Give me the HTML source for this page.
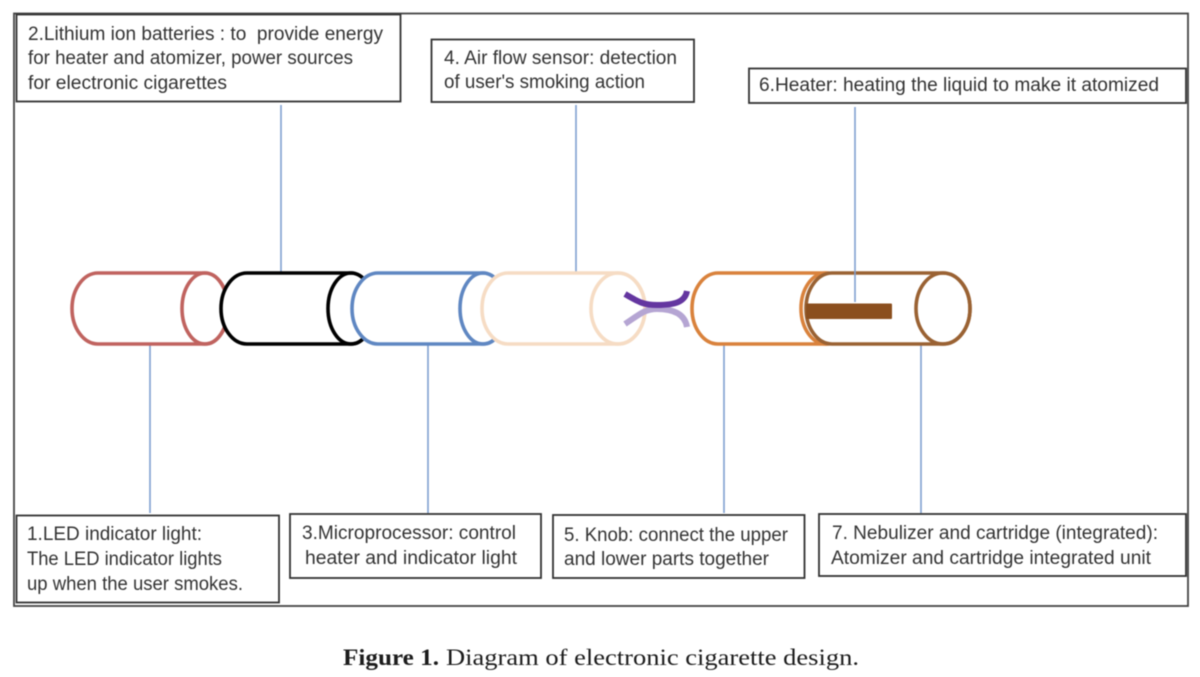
<!DOCTYPE html>
<html>
<head>
<meta charset="utf-8">
<style>
html,body{margin:0;padding:0;background:#fff;width:1200px;height:677px;overflow:hidden}
svg{display:block;filter:blur(0.4px)}
.l{font-family:"Liberation Sans",sans-serif;font-size:19px;fill:#333}
.c{font-family:"Liberation Serif",serif;font-size:23px;fill:#1c1c1c}
.b{fill:#fff;stroke:#333;stroke-width:1.8}
.k{stroke:#7f9fd0;stroke-width:1.6;fill:none}
.y{fill:#fff;stroke-width:3.6}
</style>
</head>
<body>
<svg width="1200" height="677" viewBox="0 0 1200 677" xmlns="http://www.w3.org/2000/svg">
<rect x="14" y="13.500" width="1174" height="592.500" fill="#fff" stroke="#444" stroke-width="1.800"/>

<path class="k" d="M281 105V272M576 105V272M150 345V513M428 345V513M724 345V513M921 345V513"/>

<!-- cylinders -->
<g class="y" stroke="#c0635f">
<path d="M98 273H205A23 35.500 0 0 1 205 344H98A26 35.500 0 0 1 98 273Z"/>
<ellipse cx="205" cy="308.500" rx="23" ry="35.500" fill="none"/>
</g>
<g class="y" stroke="#000">
<path d="M247 273H351A23 35.500 0 0 1 351 344H247A26 35.500 0 0 1 247 273Z"/>
<ellipse cx="351" cy="308.500" rx="23" ry="35.500" fill="none"/>
</g>
<g class="y" stroke="#5f87c2">
<path d="M378 273H483A23 35.500 0 0 1 483 344H378A26 35.500 0 0 1 378 273Z"/>
<ellipse cx="483" cy="308.500" rx="23" ry="35.500" fill="none"/>
</g>
<g class="y" stroke="#f6dcc4">
<path d="M508 273H618A27 35.500 0 0 1 618 344H508A26 35.500 0 0 1 508 273Z"/>
<ellipse cx="618" cy="308.500" rx="27" ry="35.500" fill="none"/>
</g>
<g class="y" stroke="#d9823c">
<path d="M718 273H826A25 35.500 0 0 1 826 344H718A26 35.500 0 0 1 718 273Z"/>
<ellipse cx="826" cy="308.500" rx="25" ry="35.500" fill="none"/>
</g>
<g class="y" stroke="#9a6233">
<path d="M832 273H943A27 35.500 0 0 1 943 344H832A26 35.500 0 0 1 832 273Z"/>
<ellipse cx="943" cy="308.500" rx="27" ry="35.500" fill="none"/>
</g>

<!-- knob arcs -->
<path d="M625 324C640 314 645 309 657 309C675 309 685 315 687 327" fill="none" stroke="#b5a5d3" stroke-width="6"/>
<path d="M625 294C640 303 645 305 657 305C675 305 685 302 687 291" fill="none" stroke="#6436a0" stroke-width="6"/>

<!-- heater -->
<rect x="806" y="303.500" width="86" height="15.500" rx="1" fill="#8b4f1e"/>
<path class="k" d="M855 107V302"/>

<!-- boxes -->
<rect class="b" x="16.500" y="14.500" width="384" height="87"/>
<rect class="b" x="431.500" y="39.500" width="262.500" height="62.500"/>
<rect class="b" x="749" y="68.500" width="437" height="34.500"/>
<rect class="b" x="16.500" y="515.500" width="262.500" height="87"/>
<rect class="b" x="290" y="514" width="251" height="64"/>
<rect class="b" x="553" y="515" width="251.500" height="63"/>
<rect class="b" x="819" y="514" width="367" height="62"/>

<!-- labels -->
<text class="l" x="28" y="40" textLength="355" lengthAdjust="spacingAndGlyphs" xml:space="preserve">2.Lithium ion batteries : to  provide energy</text>
<text class="l" x="28" y="64" textLength="325" lengthAdjust="spacingAndGlyphs">for heater and atomizer, power sources</text>
<text class="l" x="28" y="89" textLength="199" lengthAdjust="spacingAndGlyphs">for electronic cigarettes</text>
<text class="l" x="444" y="64" textLength="233" lengthAdjust="spacingAndGlyphs">4. Air flow sensor: detection</text>
<text class="l" x="444" y="88" textLength="201" lengthAdjust="spacingAndGlyphs">of user's smoking action</text>
<text class="l" x="759" y="91" textLength="400" lengthAdjust="spacingAndGlyphs">6.Heater: heating the liquid to make it atomized</text>
<text class="l" x="27" y="540" textLength="175" lengthAdjust="spacingAndGlyphs">1.LED indicator light:</text>
<text class="l" x="27" y="565" textLength="195" lengthAdjust="spacingAndGlyphs">The LED indicator lights</text>
<text class="l" x="27" y="590" textLength="216" lengthAdjust="spacingAndGlyphs">up when the user smokes.</text>
<text class="l" x="302" y="539" textLength="214" lengthAdjust="spacingAndGlyphs">3.Microprocessor: control</text>
<text class="l" x="305" y="564" textLength="212" lengthAdjust="spacingAndGlyphs">heater and indicator light</text>
<text class="l" x="564" y="541" textLength="224" lengthAdjust="spacingAndGlyphs">5. Knob: connect the upper</text>
<text class="l" x="564" y="565" textLength="205" lengthAdjust="spacingAndGlyphs">and lower parts together</text>
<text class="l" x="832" y="539" textLength="326" lengthAdjust="spacingAndGlyphs">7. Nebulizer and cartridge (integrated):</text>
<text class="l" x="831" y="564" textLength="320" lengthAdjust="spacingAndGlyphs">Atomizer and cartridge integrated unit</text>

<text class="c" x="343" y="665" font-weight="bold" textLength="96" lengthAdjust="spacingAndGlyphs">Figure 1.</text>
<text class="c" x="446" y="665" textLength="413" lengthAdjust="spacingAndGlyphs">Diagram of electronic cigarette design.</text>
</svg>
</body>
</html>
